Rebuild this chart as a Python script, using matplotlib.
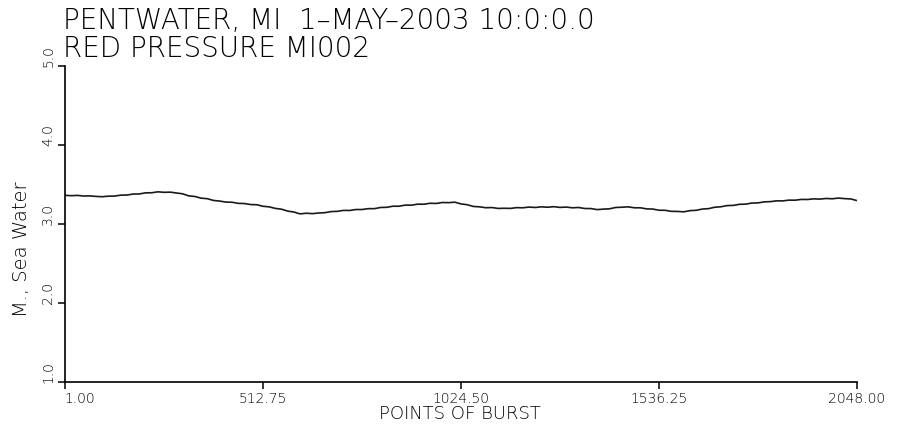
import numpy as np
import matplotlib
matplotlib.use("Agg")
import matplotlib.pyplot as plt

title_line1 = "PENTWATER, MI  1–MAY–2003 10:0:0.0"
title_line2 = "RED PRESSURE MI002"
x_label = "POINTS OF BURST"
y_label = "M., Sea Water"

x_ticks = [1.00, 512.75, 1024.50, 1536.25, 2048.00]
x_tick_labels = ["1.00", "512.75", "1024.50", "1536.25", "2048.00"]
y_ticks = [1.0, 2.0, 3.0, 4.0, 5.0]
y_tick_labels = ["1.0", "2.0", "3.0", "4.0", "5.0"]

# pressure samples (roughly every 16 points of the burst)
pressure = [
    3.367, 3.362, 3.366, 3.358, 3.360, 3.353, 3.349, 3.356, 3.357, 3.369,
    3.370, 3.383, 3.384, 3.398, 3.399, 3.411, 3.405, 3.407, 3.397, 3.386,
    3.360, 3.352, 3.331, 3.324, 3.302, 3.294, 3.281, 3.279, 3.265, 3.263,
    3.250, 3.248, 3.228, 3.221, 3.201, 3.191, 3.167, 3.155, 3.132, 3.140,
    3.135, 3.143, 3.147, 3.161, 3.164, 3.176, 3.175, 3.187, 3.187, 3.198,
    3.198, 3.213, 3.215, 3.229, 3.229, 3.243, 3.242, 3.255, 3.254, 3.266,
    3.264, 3.276, 3.274, 3.280, 3.258, 3.248, 3.226, 3.221, 3.210, 3.212,
    3.201, 3.203, 3.201, 3.211, 3.209, 3.218, 3.213, 3.221, 3.216, 3.223,
    3.214, 3.218, 3.209, 3.213, 3.200, 3.199, 3.186, 3.192, 3.196, 3.213,
    3.216, 3.221, 3.209, 3.209, 3.195, 3.193, 3.178, 3.177, 3.164, 3.163,
    3.158, 3.173, 3.177, 3.193, 3.198, 3.216, 3.222, 3.237, 3.239, 3.253,
    3.255, 3.269, 3.271, 3.284, 3.287, 3.297, 3.296, 3.306, 3.305, 3.315,
    3.314, 3.322, 3.319, 3.327, 3.323, 3.332, 3.325, 3.321, 3.300,
]
points = np.linspace(1, 2048, len(pressure))

W, H = 902, 431
fig = plt.figure(figsize=(W / 100, H / 100), dpi=100)
ax = fig.add_axes([65 / W, 1 - 383.3 / H, (857 - 65) / W, (383.3 - 67.3) / H])

ax.plot(points, pressure, color="#1a1a1a", lw=1.2)

ax.set_xlim(1, 2048)
ax.set_ylim(1, 5)
for s in ["top", "right"]:
    ax.spines[s].set_visible(False)
for s in ["left", "bottom"]:
    ax.spines[s].set_linewidth(1.2)
    ax.spines[s].set_color("black")

ax.set_xticks(x_ticks)
ax.set_xticklabels(x_tick_labels, fontsize=10, fontweight="light", color="black")
ax.set_yticks(y_ticks)
ax.set_yticklabels(y_tick_labels, fontsize=10, rotation=90, va="bottom",
                   fontweight="light", color="black")
ax.tick_params(axis="both", direction="out", length=5, width=1.1, color="black")
ax.tick_params(axis="x", pad=1.0)
ax.tick_params(axis="y", pad=2)
ax.get_xticklabels()[0].set_ha("left")

fig.text(63 / W, 1 - 57 / H, title_line1 + "\n" + title_line2, fontsize=20,
         ha="left", va="baseline", fontweight="light", linespacing=1.0,
         multialignment="left")
fig.text(460 / W, 1 - 419 / H, x_label, fontsize=13, ha="center", va="baseline",
         fontweight="light")
fig.text(22 / W, 1 - 249 / H, y_label, fontsize=14, rotation=90, ha="center",
         va="center", fontweight="light")

fig.savefig("out.png", dpi=100)
